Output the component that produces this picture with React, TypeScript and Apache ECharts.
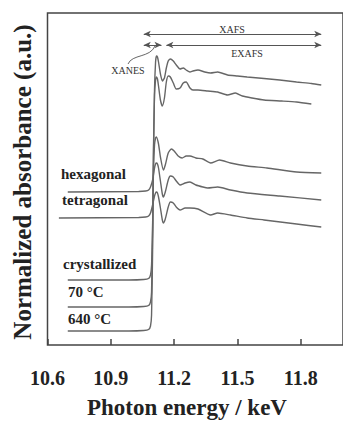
import React, { useEffect, useRef } from "react";
import * as echarts from "echarts";

// Photon energy (keV) / normalized absorbance (a.u., stacked offsets)
const s640: [number, number][] = [
  [10.696, 0.14], [10.986, 0.14], [11.056, 0.145], [11.079, 0.155], [11.088, 0.19],
  [11.093, 0.3], [11.098, 0.95], [11.102, 1.85], [11.107, 2.55], [11.112, 2.83],
  [11.116, 2.89], [11.121, 2.88], [11.126, 2.83], [11.135, 2.71], [11.144, 2.64],
  [11.154, 2.67], [11.163, 2.77], [11.172, 2.84], [11.182, 2.86], [11.196, 2.84],
  [11.21, 2.8], [11.228, 2.76], [11.243, 2.77], [11.257, 2.75], [11.275, 2.73],
  [11.289, 2.74], [11.313, 2.75], [11.345, 2.73], [11.373, 2.72], [11.406, 2.73],
  [11.453, 2.7], [11.5, 2.69], [11.546, 2.68], [11.626, 2.665], [11.7, 2.65],
  [11.78, 2.63], [11.85, 2.615], [11.897, 2.6],
];
const s70: [number, number][] = [
  [10.696, 0.38], [10.986, 0.38], [11.056, 0.385], [11.079, 0.395], [11.088, 0.43],
  [11.093, 0.53], [11.098, 1.15], [11.102, 1.95], [11.107, 2.5], [11.112, 2.65],
  [11.116, 2.68], [11.121, 2.66], [11.126, 2.59], [11.135, 2.45], [11.144, 2.39],
  [11.154, 2.47], [11.163, 2.63], [11.172, 2.69], [11.182, 2.68], [11.196, 2.62],
  [11.21, 2.56], [11.228, 2.57], [11.243, 2.62], [11.257, 2.63], [11.275, 2.57],
  [11.289, 2.55], [11.313, 2.55], [11.359, 2.54], [11.406, 2.53], [11.453, 2.5],
  [11.49, 2.52], [11.523, 2.49], [11.569, 2.47], [11.626, 2.45], [11.71, 2.44],
  [11.78, 2.43], [11.85, 2.41],
];
const sCrystallized: [number, number][] = [
  [10.696, 0.65], [10.986, 0.65], [11.056, 0.655], [11.079, 0.665], [11.088, 0.7],
  [11.093, 0.8], [11.098, 1.2], [11.102, 1.75], [11.107, 2.0], [11.112, 2.07],
  [11.116, 2.08], [11.126, 2.01], [11.135, 1.88], [11.149, 1.75], [11.158, 1.8],
  [11.172, 1.92], [11.187, 1.96], [11.2, 1.94], [11.219, 1.89], [11.238, 1.87],
  [11.257, 1.89], [11.275, 1.89], [11.303, 1.87], [11.336, 1.86], [11.373, 1.82],
  [11.415, 1.85], [11.467, 1.82], [11.546, 1.79], [11.64, 1.77], [11.78, 1.73],
  [11.897, 1.72],
];
const sHexagonal: [number, number][] = [
  [10.696, 1.53], [11.032, 1.535], [11.065, 1.54], [11.079, 1.55], [11.088, 1.58],
  [11.098, 1.65], [11.107, 1.77], [11.112, 1.81], [11.116, 1.82], [11.121, 1.81],
  [11.126, 1.77], [11.135, 1.64], [11.144, 1.51], [11.149, 1.48], [11.158, 1.53],
  [11.172, 1.65], [11.182, 1.69], [11.196, 1.68], [11.21, 1.64], [11.228, 1.6],
  [11.252, 1.62], [11.275, 1.63], [11.303, 1.6], [11.336, 1.58], [11.359, 1.57],
  [11.406, 1.58], [11.467, 1.55], [11.546, 1.52], [11.7, 1.49], [11.897, 1.45],
];
const sTetragonal: [number, number][] = [
  [10.654, 1.27], [11.032, 1.275], [11.065, 1.28], [11.079, 1.29], [11.088, 1.32],
  [11.098, 1.4], [11.107, 1.49], [11.112, 1.52], [11.116, 1.53], [11.121, 1.52],
  [11.126, 1.48], [11.135, 1.37], [11.144, 1.25], [11.149, 1.22], [11.158, 1.26],
  [11.172, 1.38], [11.182, 1.43], [11.196, 1.42], [11.21, 1.38], [11.228, 1.35],
  [11.252, 1.37], [11.275, 1.37], [11.313, 1.36], [11.373, 1.3], [11.406, 1.32],
  [11.467, 1.3], [11.546, 1.27], [11.626, 1.25], [11.78, 1.21], [11.897, 1.18],
];

const xTickLabels = ["10.6", "10.9", "11.2", "11.5", "11.8"];

// annotation ranges (keV) and heights (a.u.)
const xafsRange = [11.056, 11.897];
const xanesRange = [11.056, 11.14];
const exafsRange = [11.163, 11.897];
const arrowRowTop = 3.11;
const arrowRowBottom = 3.0;

const FONT = "'Liberation Serif', 'Times New Roman', serif";

export default function App() {
  const ref = useRef<HTMLDivElement>(null);
  useEffect(() => {
    if (!ref.current) return;
    const chart = echarts.init(ref.current, undefined, { renderer: "svg" });
    const lineColor = "#666";
    const mk = (data: [number, number][], extra: any = {}) => ({
      type: "line",
      data,
      showSymbol: false,
      smooth: 0.2,
      lineStyle: { color: lineColor, width: 1.4 },
      ...extra,
    });
    const labelText = (text: string, x: number, y: number) => ({
      type: "text",
      x,
      y,
      style: {
        text,
        fill: "#222",
        font: `bold 15px ${FONT}`,
        textAlign: "left",
        textVerticalAlign: "middle",
      },
    });
    const smallText = (text: string, x: number, y: number) => ({
      type: "text",
      x,
      y,
      style: {
        text,
        fill: "#333",
        font: `10px ${FONT}`,
        textAlign: "center",
        textVerticalAlign: "middle",
      },
    });
    chart.setOption({
      animation: false,
      grid: {
        left: 47.5,
        top: 13,
        right: -4,
        bottom: 76,
        show: true,
        borderColor: "#444",
        borderWidth: 1.5,
        backgroundColor: "transparent",
      },
      xAxis: {
        type: "value",
        min: 10.6,
        max: 12.0,
        interval: 0.3,
        axisLine: { show: false },
        splitLine: { show: false },
        axisTick: { show: true, inside: true, length: 6, lineStyle: { color: "#444", width: 1.5 } },
        axisLabel: {
          margin: 23,
          showMaxLabel: false,
          color: "#222",
          fontFamily: FONT,
          fontWeight: "bold",
          fontSize: 20,
          formatter: (v: number) => {
            const s = v.toFixed(1);
            return xTickLabels.includes(s) ? s : "";
          },
        },
      },
      yAxis: {
        type: "value",
        min: 0,
        max: 3.32,
        axisLine: { show: false },
        axisTick: { show: false },
        axisLabel: { show: false },
        splitLine: { show: false },
      },
      series: [
        mk(s640, {
          markLine: {
            silent: true,
            symbol: ["arrow", "arrow"],
            symbolSize: [5, 7],
            label: { show: false },
            lineStyle: { color: "#555", width: 1, type: "solid" },
            data: [
              [{ coord: [xafsRange[0], arrowRowTop] }, { coord: [xafsRange[1], arrowRowTop] }],
              [{ coord: [xanesRange[0], arrowRowBottom] }, { coord: [xanesRange[1], arrowRowBottom] }],
              [{ coord: [exafsRange[0], arrowRowBottom] }, { coord: [exafsRange[1], arrowRowBottom] }],
            ],
          },
        }),
        mk(s70),
        mk(sCrystallized),
        mk(sHexagonal),
        mk(sTetragonal),
      ],
      graphic: [
        labelText("hexagonal", 61, 174),
        labelText("tetragonal", 62, 200),
        labelText("crystallized", 63, 264),
        labelText("70 °C", 68, 292),
        labelText("640 °C", 68, 319),
        smallText("XAFS", 232, 29),
        smallText("EXAFS", 247, 53),
        smallText("XANES", 128, 70),
        {
          type: "bezierCurve",
          shape: { x1: 128, y1: 64, cpx1: 132, cpy1: 54, cpx2: 150, cpy2: 58, x2: 155, y2: 46 },
          style: { stroke: "#555", lineWidth: 0.9, fill: "none" },
        },
        {
          type: "text",
          x: 187,
          y: 407,
          style: {
            text: "Photon energy / keV",
            fill: "#222",
            font: `bold 23px ${FONT}`,
            textAlign: "center",
            textVerticalAlign: "middle",
          },
        },
        {
          type: "text",
          x: 22,
          y: 182,
          rotation: Math.PI / 2,
          style: {
            text: "Normalized absorbance (a.u.)",
            fill: "#222",
            font: `bold 25px ${FONT}`,
            textAlign: "center",
            textVerticalAlign: "middle",
          },
        },
      ],
    });
    return () => chart.dispose();
  }, []);
  return <div ref={ref} style={{ width: 343, height: 421, position: "absolute", left: 0, top: 0 }} />;
}
